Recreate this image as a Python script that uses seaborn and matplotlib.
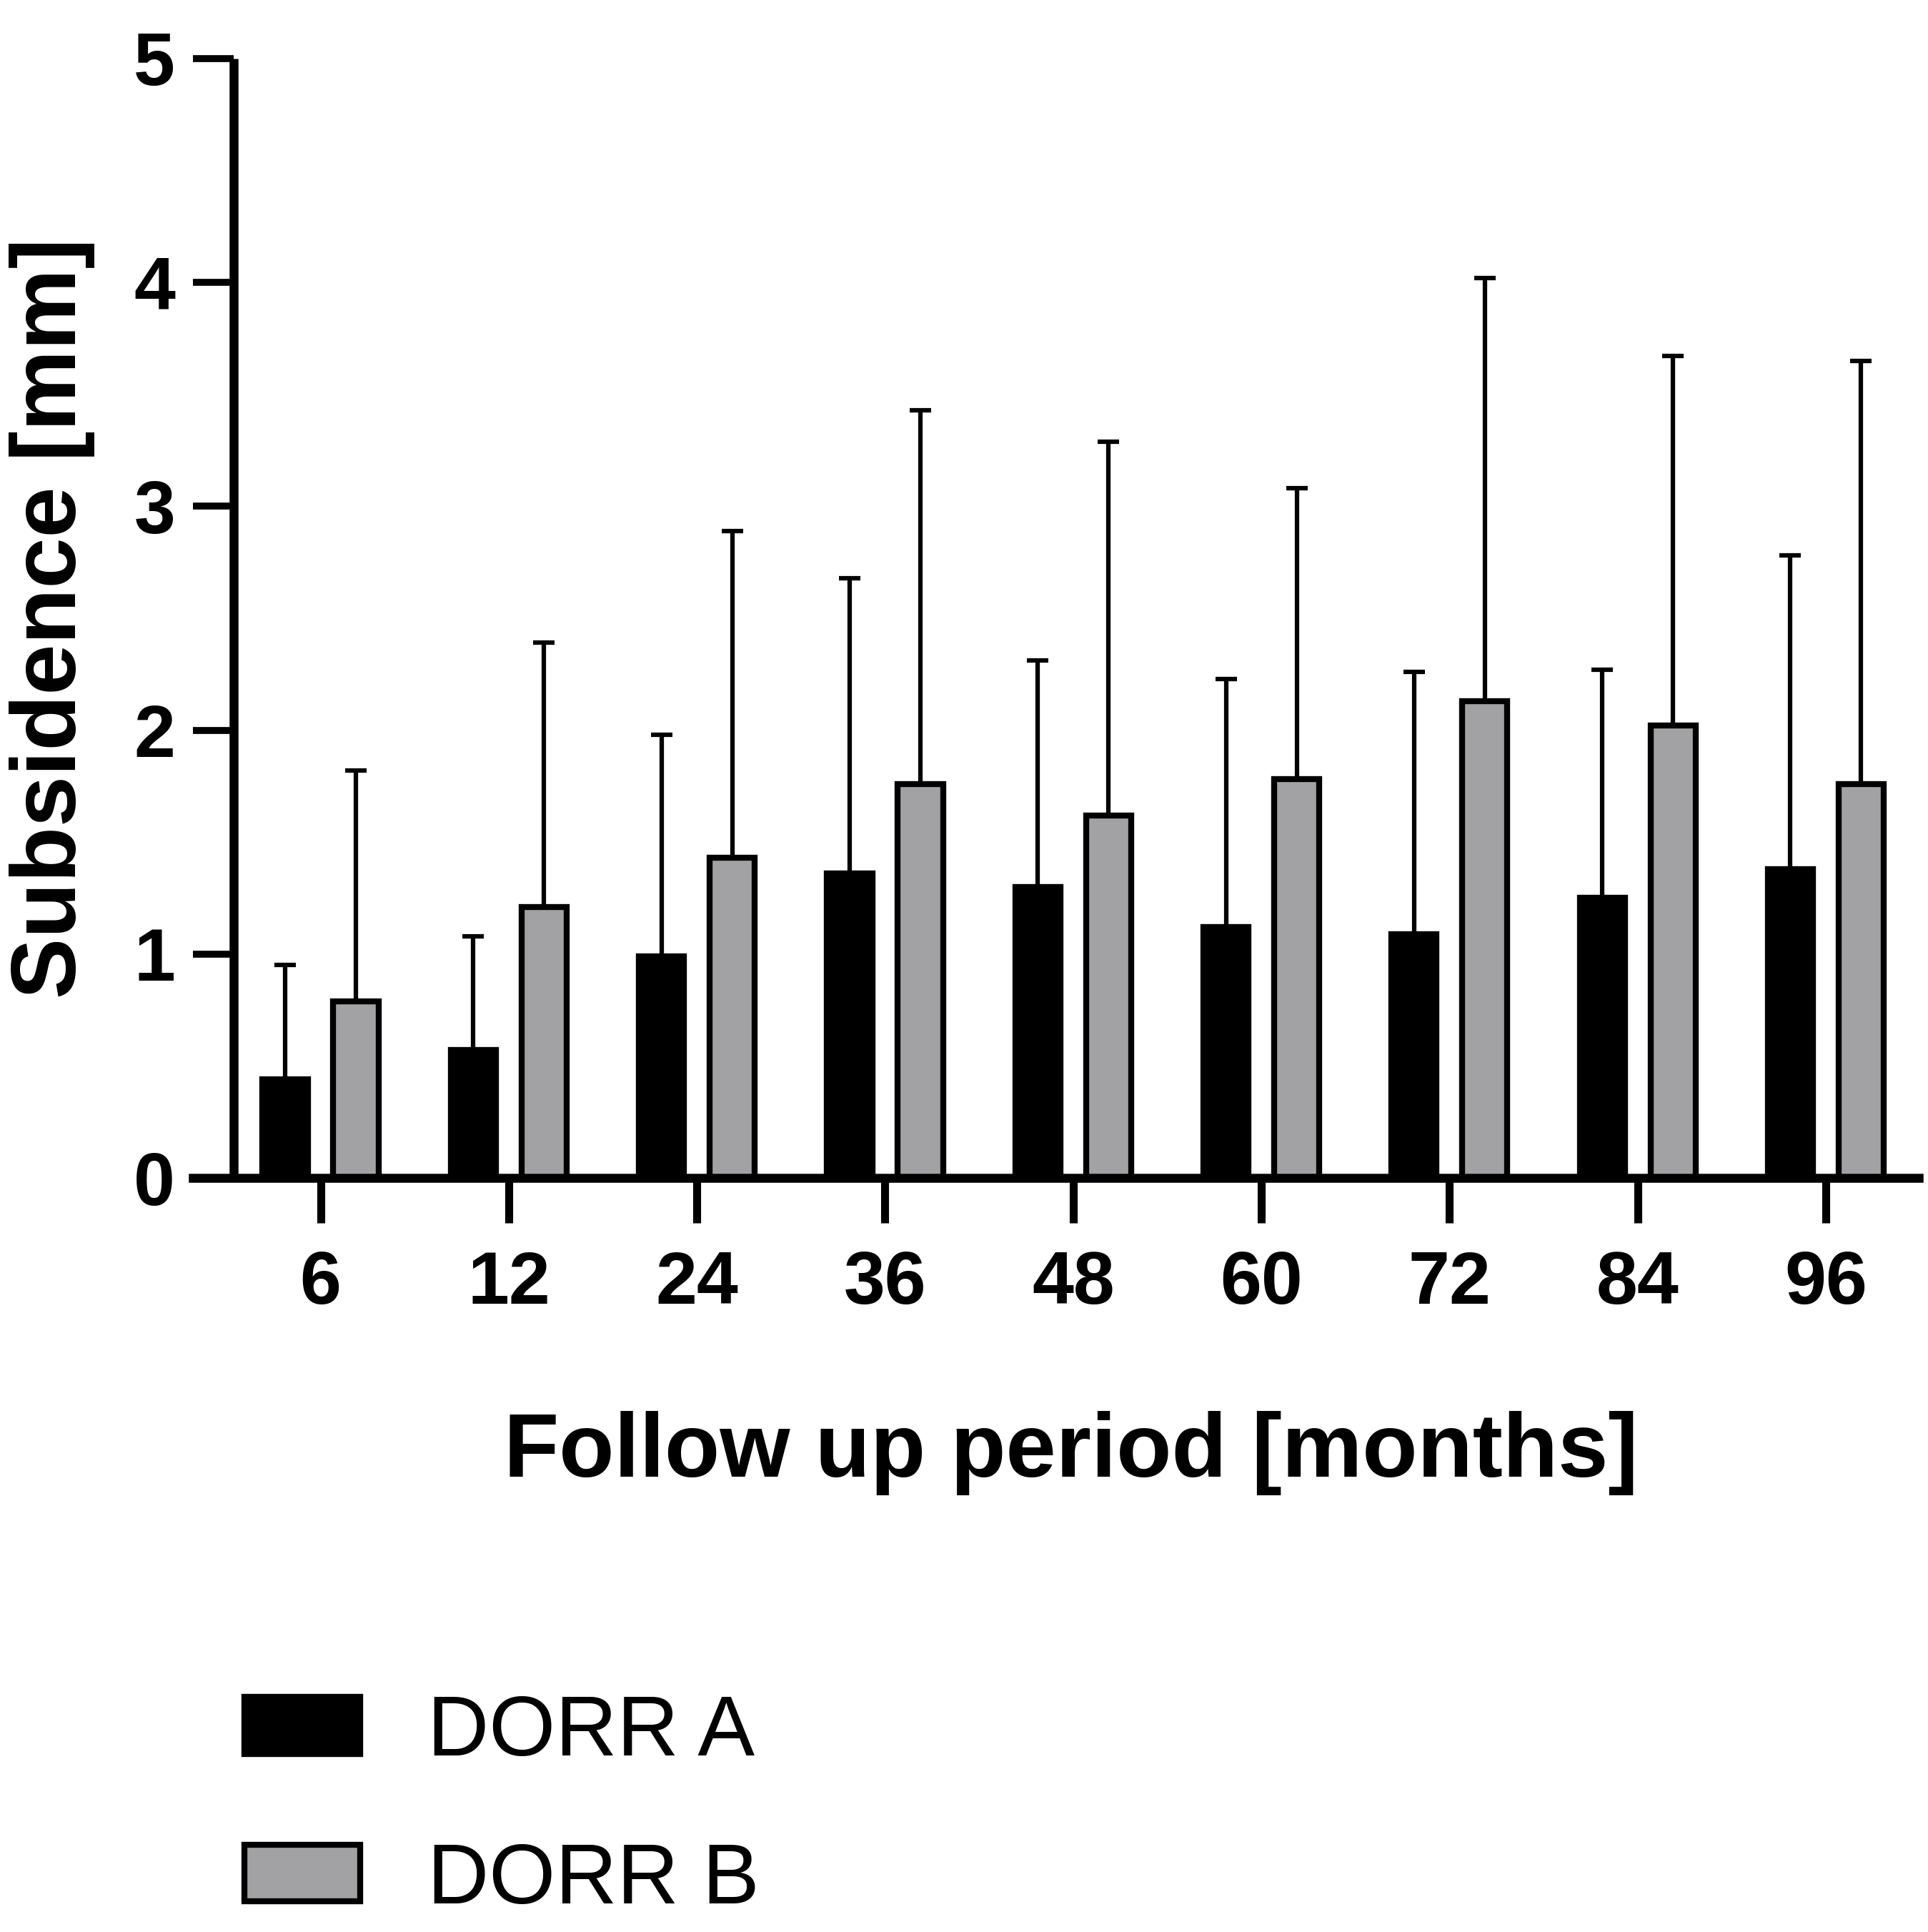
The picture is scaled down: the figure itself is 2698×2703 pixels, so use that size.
import numpy as np
import pandas as pd
import matplotlib
matplotlib.use("Agg")
import matplotlib.pyplot as plt
import seaborn as sns

periods = ["6", "12", "24", "36", "48", "60", "72", "84", "96"]
groups = ["DORR A", "DORR B"]
mean_a = [0.44, 0.57, 0.99, 1.36, 1.30, 1.12, 1.09, 1.25, 1.38]
sd_a = [0.51, 0.51, 0.99, 1.32, 1.01, 1.11, 1.17, 1.02, 1.40]
mean_b = [0.79, 1.21, 1.43, 1.76, 1.62, 1.78, 2.13, 2.02, 1.76]
sd_b = [1.03, 1.18, 1.46, 1.67, 1.67, 1.30, 1.89, 1.65, 1.89]

colors = {"DORR A": "#000000", "DORR B": "#A2A1A6"}

df = pd.DataFrame({
    "period": periods * 2,
    "group": ["DORR A"] * len(periods) + ["DORR B"] * len(periods),
    "value": mean_a + mean_b,
})

sns.set_style("ticks")
plt.rcParams["font.family"] = ["Liberation Sans", "DejaVu Sans"]
plt.rcParams.update({
    "text.color": "black",
    "axes.labelcolor": "black",
    "axes.edgecolor": "black",
    "xtick.color": "black",
    "ytick.color": "black",
})

fig = plt.figure(figsize=(26.98, 27.03), dpi=100)
ax_h = 0.5794
ax = fig.add_axes([0.0999, 0.3903, 0.8953, ax_h])

sns.barplot(data=df, x="period", y="value", hue="group", order=periods,
            hue_order=groups, palette=colors, width=0.752, gap=0.362,
            edgecolor="black", linewidth=6, errorbar=None, ax=ax,
            legend=True)

sds = [sd_a, sd_b]
for cont, sd in zip(ax.containers, sds):
    xs = [b.get_x() + b.get_width() / 2 for b in cont]
    ys = [b.get_height() for b in cont]
    ax.errorbar(xs, ys, yerr=[np.zeros(len(sd)), sd], fmt="none",
                ecolor="black", elinewidth=4.5, capsize=11, capthick=4.5,
                zorder=0.5)

ax.set_xlim(-0.68, 8.494)
ax.set_ylim(0, 5)
ax.set_yticks([0, 1, 2, 3, 4, 5])
ax.spines["top"].set_visible(False)
ax.spines["right"].set_visible(False)
ax.spines["left"].set_position(("data", -0.462))
ax.spines["left"].set_linewidth(9)
ax.spines["bottom"].set_linewidth(9)
ax.spines["left"].set_capstyle("butt")

ax.tick_params(axis="y", direction="out", length=41, width=7, pad=18,
               labelsize=75, color="black", labelcolor="black")
ax.tick_params(axis="x", direction="out", length=45, width=8, pad=28,
               labelsize=75, color="black", labelcolor="black")
for lab in ax.get_xticklabels() + ax.get_yticklabels():
    lab.set_fontweight("bold")

ax.set_xlabel("Follow up period [months]", fontsize=91, fontweight="bold",
              color="black", va="center")
ax.xaxis.set_label_coords(0.5087, -(2033 - 1648) / (ax_h * 2703))
ax.set_ylabel("Subsidence [mm]", fontsize=92, fontweight="bold",
              color="black", va="center")
ax.yaxis.set_label_coords(-0.0813, 0.5)

handles, labels = ax.get_legend_handles_labels()
leg = ax.legend(handles, labels, loc="upper left",
                bbox_to_anchor=(342 / 2698, 1 - 2370 / 2703),
                bbox_transform=fig.transFigure, frameon=False, fontsize=86,
                handlelength=1.36, handleheight=0.65, handletextpad=0.78,
                labelspacing=0.8, borderpad=0, borderaxespad=0)
for t in leg.get_texts():
    t.set_color("black")

fig.savefig("out.png", dpi=100)
